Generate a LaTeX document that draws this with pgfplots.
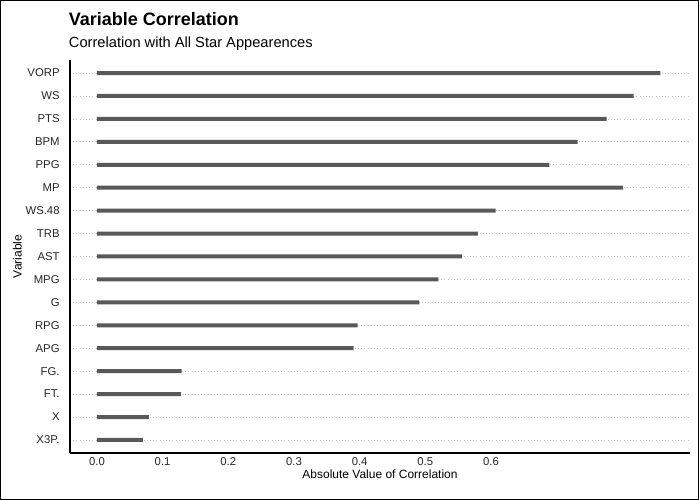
\documentclass[border=0pt]{standalone}
\usepackage{pgfplots}
\pgfplotsset{compat=1.18}
\usepackage{fontspec}
\setmainfont{Liberation Sans}
\definecolor{barc}{HTML}{595959}
\begin{document}
\begin{tikzpicture}
\draw[black,line width=0.8pt] (0.4pt,0.4pt) rectangle (523.85pt,374.6pt);
\node[anchor=base west,inner sep=0pt,font=\bfseries\fontsize{13.5}{15}\selectfont] at (51.5pt,356pt) {Variable Correlation};
\node[anchor=base west,inner sep=0pt,font=\fontsize{11}{13}\selectfont] at (51.5pt,339pt) {Correlation with All Star Appearences};
\begin{axis}[at={(52.5pt,35.25pt)},anchor=south west,scale only axis,
 width=465pt,height=294.75pt,
 xmin=-0.041,xmax=0.903,ymin=0.43,ymax=17.57,
 axis x line*=bottom, axis y line*=left,
 axis line style={line width=0.8pt,-},
 xtick={0,0.1,0.2,0.3,0.4,0.5,0.6},
 xticklabels={0.0,0.1,0.2,0.3,0.4,0.5,0.6},
 ytick={1,...,17},
 yticklabels={X3P.,X,FT.,FG.,APG,RPG,G,MPG,AST,TRB,WS.48,MP,PPG,BPM,PTS,WS,VORP},
 tick style={draw=none},
 ticklabel style={font=\fontsize{8.5}{10}\selectfont,text=black!85},
 ymajorgrids, grid style={dotted,gray!50,line width=0.6pt},
 xlabel={Absolute Value of Correlation}, ylabel={Variable},
 label style={font=\fontsize{9}{11}\selectfont},
 xlabel style={yshift=4pt}, ylabel style={yshift=-4pt},
 xbar, bar width=3pt, bar shift=0pt]
\addplot[fill=barc,draw=none] coordinates {
(0.070,1)(0.079,2)(0.128,3)(0.129,4)(0.391,5)(0.397,6)(0.491,7)(0.520,8)(0.556,9)(0.580,10)(0.607,11)(0.801,12)(0.689,13)(0.732,14)(0.776,15)(0.817,16)(0.858,17)};
\end{axis}
\end{tikzpicture}
\end{document}
